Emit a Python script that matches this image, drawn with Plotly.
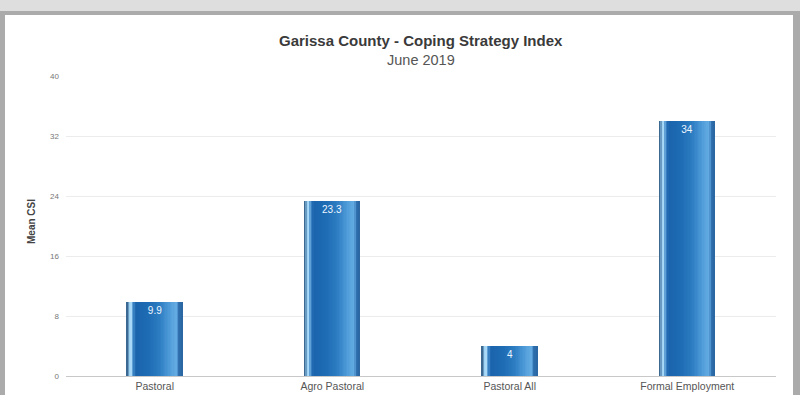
import plotly.graph_objects as go

# ---- data ----
categories = ["Pastoral", "Agro Pastoral", "Pastoral All", "Formal Employment"]
mean_csi = [9.9, 23.3, 4, 34]
value_labels = ["9.9", "23.3", "4", "34"]
y_ticks = [0, 8, 16, 24, 32, 40]

title_text = "Garissa County - Coping Strategy Index"
subtitle_text = "June 2019"
y_title = "Mean CSI"

# ---- style ----
W = 0.315  # bar width in category units
# colour stops across the bar width (fraction, rgb) to mimic the glossy gradient
stops = [
    (0.00, (60, 105, 145)),
    (0.035, (60, 105, 145)),
    (0.04, (150, 205, 242)),
    (0.09, (170, 218, 246)),
    (0.12, (70, 140, 205)),
    (0.17, (26, 100, 172)),
    (0.40, (30, 108, 180)),
    (0.60, (45, 125, 195)),
    (0.80, (85, 160, 220)),
    (0.90, (100, 172, 226)),
    (0.93, (50, 115, 178)),
    (1.00, (40, 100, 160)),
]
N_STRIPES = 40


def colour_at(f):
    for (a, ca), (b, cb) in zip(stops[:-1], stops[1:]):
        if a <= f <= b:
            t = 0 if b == a else (f - a) / (b - a)
            c = [round(ca[i] + (cb[i] - ca[i]) * t) for i in range(3)]
            return "rgb(%d,%d,%d)" % tuple(c)
    return "rgb(%d,%d,%d)" % stops[-1][1]


fig = go.Figure()
x_idx = list(range(len(categories)))
for k in range(N_STRIPES):
    s0 = k / N_STRIPES
    s1 = (k + 1) / N_STRIPES
    col = colour_at((s0 + s1) / 2)
    fig.add_trace(go.Bar(
        x=x_idx, y=mean_csi,
        width=[W * (s1 - s0) * 1.04] * len(categories),
        offset=-W / 2 + W * s0,
        marker=dict(color=col, line=dict(width=0)),
        hoverinfo="skip", showlegend=False,
    ))
# transparent top layer carrying the value labels
fig.add_trace(go.Bar(
    x=x_idx, y=mean_csi,
    width=[W] * len(categories),
    marker=dict(color="rgba(0,0,0,0)", line=dict(width=0)),
    text=value_labels, textposition="inside", insidetextanchor="end",
    textangle=0, constraintext="none",
    textfont=dict(color="#eef6ff", size=10, family="Liberation Sans, Arial"),
    showlegend=False, hoverinfo="skip",
))

L, R, T, B = 66, 24, 76, 19
plot_w = 800 - L - R
plot_h = 395 - T - B


def px_x(p):
    return (p - L) / plot_w


def px_y(p):
    return (395 - B - p) / plot_h


shapes = [
    # white panel
    dict(type="rect", xref="paper", yref="paper", layer="below",
         x0=px_x(5), x1=px_x(793), y0=px_y(420), y1=px_y(15),
         fillcolor="white", line=dict(width=0)),
    # light top band
    dict(type="rect", xref="paper", yref="paper", layer="below",
         x0=px_x(-10), x1=px_x(810), y0=px_y(11), y1=px_y(-10),
         fillcolor="#dedede", line=dict(width=0)),
]

annotations = [
    dict(text="<b>" + title_text + "</b>", xref="paper", yref="paper",
         x=px_x(421), y=px_y(41), showarrow=False, xanchor="center", yanchor="middle",
         font=dict(size=15, color="#3a3a3a", family="Liberation Sans, Arial")),
    dict(text=subtitle_text, xref="paper", yref="paper",
         x=px_x(421), y=px_y(60), showarrow=False, xanchor="center", yanchor="middle",
         font=dict(size=14.5, color="#555555", family="Liberation Sans, Arial")),
    dict(text="<b>" + y_title + "</b>", xref="paper", yref="paper",
         x=px_x(31), y=px_y(222), showarrow=False, textangle=-90,
         xanchor="center", yanchor="middle",
         font=dict(size=10, color="#444444", family="Liberation Sans, Arial")),
]

fig.update_layout(
    width=800, height=395,
    margin=dict(l=L, r=R, t=T, b=B, pad=0),
    paper_bgcolor="#ababab", plot_bgcolor="white",
    barmode="overlay", bargap=0,
    shapes=shapes, annotations=annotations,
    font=dict(family="Liberation Sans, Arial", color="#555555"),
    xaxis=dict(
        tickmode="array", tickvals=x_idx, ticktext=categories,
        range=[-0.5, len(categories) - 0.5], automargin=False,
        showgrid=False, zeroline=False, showline=True, linecolor="#c8c8c8", linewidth=1,
        ticks="", tickfont=dict(size=10.5, color="#555555"),
    ),
    yaxis=dict(
        range=[0, 40], tickmode="array", tickvals=y_ticks, automargin=False,
        showgrid=True, gridcolor="#ececec", gridwidth=1, zeroline=False,
        showline=False, ticks="", tickfont=dict(size=8, color="#777777"),
        ticklabelstandoff=6,
    ),
)

fig.write_html("out.html")
